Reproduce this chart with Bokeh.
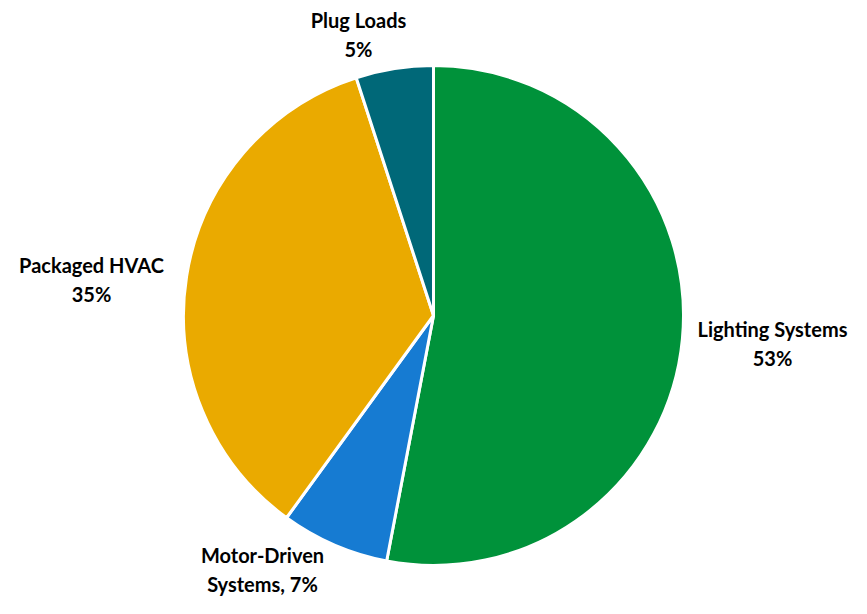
import math
from bokeh.plotting import figure
from bokeh.models import Range1d, ColumnDataSource
from bokeh.core.properties import value
from bokeh.embed import file_html
from bokeh.resources import INLINE

# ---- data ----
categories = ["Lighting Systems", "Motor-Driven Systems", "Packaged HVAC", "Plug Loads"]
shares = [53, 7, 35, 5]
label_texts = ["Lighting Systems\n53%", "Motor-Driven\nSystems, 7%", "Packaged HVAC\n35%", "Plug Loads\n5%"]
colors = ["#00923A", "#167BD2", "#EAAA00", "#006878"]

# ---- layout ----
W, H = 851, 598
cx, cy, r = 433, 283, 250
# label block centres (figure coordinates)
label_x = [772, 262, 91, 358]
label_y = [255, 29, 319, 564]

total = float(sum(shares))
starts, ends = [], []
cum = 0.0
for s in shares:
    starts.append(math.pi / 2 - 2 * math.pi * cum / total)
    cum += s
    ends.append(math.pi / 2 - 2 * math.pi * cum / total)

src = ColumnDataSource(dict(
    cat=categories, share=shares, start=starts, end=ends, color=colors,
    x=[cx] * len(shares), y=[cy] * len(shares),
))
lab = ColumnDataSource(dict(x=label_x, y=label_y, text=label_texts))

p = figure(width=W, height=H, x_range=Range1d(0, W), y_range=Range1d(0, H),
           output_backend="svg", toolbar_location=None, min_border=0)
p.axis.visible = False
p.grid.visible = False
p.outline_line_color = None
p.background_fill_color = "white"

p.wedge(x="x", y="y", radius=r, start_angle="start", end_angle="end",
        direction="clock", fill_color="color", line_color="white", line_width=3,
        source=src)

p.text(x="x", y="y", text="text", source=lab, text_align="center",
       text_baseline="middle", text_font=value("Lato"), text_font_style="bold",
       text_font_size="20px", text_color="#000000", text_line_height=1.2)

open("out.html", "w").write(file_html(p, INLINE))
